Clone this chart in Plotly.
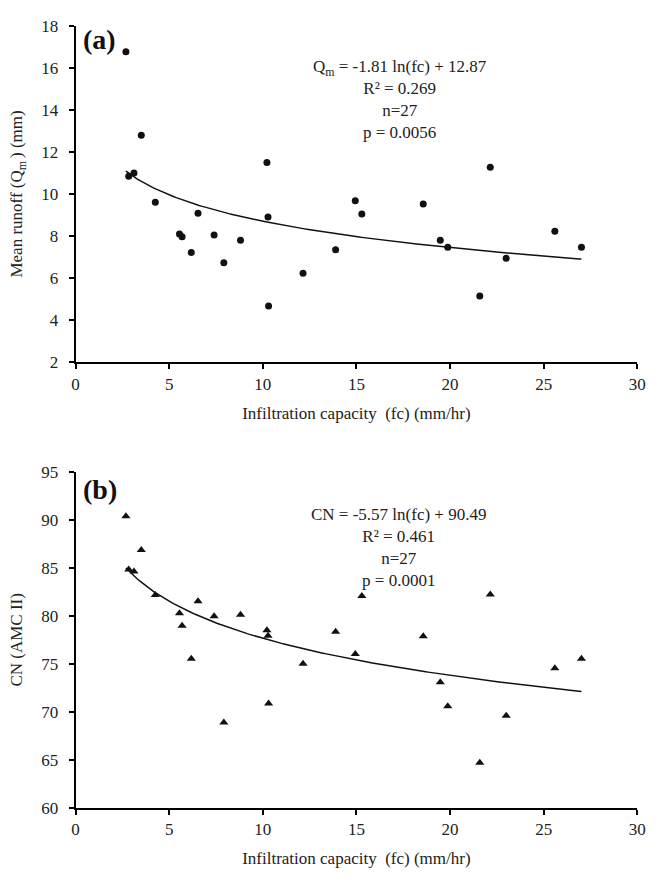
import numpy as np
import plotly.graph_objects as go

# ---- data ----
fc = [2.69, 3.51, 10.22, 2.84, 3.12, 4.26, 14.94, 6.54, 10.28, 5.55, 5.69, 7.40, 8.81, 6.18,
      7.92, 12.15, 10.31, 13.89, 15.29, 22.15, 18.57, 19.48, 19.88, 25.60, 27.02, 23.00, 21.59]
qm = [16.76, 12.79, 11.49, 10.84, 10.99, 9.60, 9.67, 9.08, 8.90, 8.09, 7.97, 8.05, 7.80, 7.22,
      6.73, 6.23, 4.67, 7.35, 9.04, 11.27, 9.52, 7.80, 7.47, 8.23, 7.47, 6.94, 5.15]
cn = [90.36, 86.86, 78.49, 84.82, 84.61, 82.16, 76.04, 81.51, 77.94, 80.26, 78.96, 79.95, 80.12, 75.53,
      68.90, 75.02, 70.87, 78.35, 82.06, 82.22, 77.88, 73.08, 70.59, 74.54, 75.53, 69.61, 64.71]

# fitted log-trend coefficients (slope, intercept) shown in the chart
fit_qm = [-1.81, 12.87]
fit_cn = [-5.57, 90.49]

eq_a = ["Q<sub>m</sub> = -1.81 ln(fc) + 12.87", "R² = 0.269", "n=27", "p = 0.0056"]
eq_b = ["CN = -5.57 ln(fc) + 90.49", "R² = 0.461", "n=27", "p = 0.0001"]

x_ticks = [0, 5, 10, 15, 20, 25, 30]

FONT = "Liberation Serif, Times New Roman, serif"
W, H = 658, 882

xfit = np.linspace(min(fc), max(fc), 200)

fig = go.Figure()
fig.add_trace(go.Scatter(x=fc, y=qm, mode="markers",
                         marker=dict(symbol="circle", size=7, color="#111111"),
                         xaxis="x", yaxis="y", showlegend=False))
fig.add_trace(go.Scatter(x=xfit, y=fit_qm[0] * np.log(xfit) + fit_qm[1], mode="lines",
                         line=dict(color="#111111", width=1.5),
                         xaxis="x", yaxis="y", showlegend=False))
fig.add_trace(go.Scatter(x=fc, y=cn, mode="markers",
                         marker=dict(symbol="triangle-up", size=8, color="#111111"),
                         xaxis="x2", yaxis="y2", showlegend=False))
fig.add_trace(go.Scatter(x=xfit, y=fit_cn[0] * np.log(xfit) + fit_cn[1], mode="lines",
                         line=dict(color="#111111", width=1.5),
                         xaxis="x2", yaxis="y2", showlegend=False))

axis_common = dict(showline=True, linecolor="black", linewidth=2, ticks="outside",
                   ticklen=5, tickwidth=1.5, tickcolor="black", showgrid=False,
                   zeroline=False, mirror=False,
                   tickfont=dict(family=FONT, size=17, color="#222222"))

xdom = [73 / W, 646 / W]
xtitle = "Infiltration capacity  (fc) (mm/hr)"
tfont = dict(family=FONT, size=17, color="#222222")

fig.update_layout(
    width=W, height=H, margin=dict(l=0, r=0, t=0, b=0),
    paper_bgcolor="white", plot_bgcolor="white",
    font=dict(family=FONT, color="#222222"),
    xaxis=dict(domain=xdom, anchor="y", range=[0, 30], tickvals=x_ticks,
               title=dict(text=xtitle, font=tfont, standoff=14), **axis_common),
    yaxis=dict(domain=[1 - 361 / H, 1 - 17 / H], anchor="x", range=[2, 18], dtick=2,
               ticklabelstandoff=7,
               title=dict(text="Mean runoff (Q<sub>m </sub>) (mm)", font=tfont, standoff=14),
               **axis_common),
    xaxis2=dict(domain=xdom, anchor="y2", range=[0, 30], tickvals=x_ticks,
                title=dict(text=xtitle, font=tfont, standoff=14), **axis_common),
    yaxis2=dict(domain=[1 - 816.5 / H, 1 - 473 / H], anchor="x2", range=[60, 95], dtick=5,
                ticklabelstandoff=7,
                title=dict(text="CN (AMC II)", font=tfont, standoff=14),
                **axis_common),
)

fig.add_annotation(text="<b>(a)</b>", xref="paper", yref="paper", x=79 / W, y=1 - 31 / H,
                   xanchor="left", yanchor="middle", showarrow=False,
                   font=dict(family=FONT, size=28, color="#111111"))
fig.add_annotation(text="<b>(b)</b>", xref="paper", yref="paper", x=79 / W, y=1 - 491 / H,
                   xanchor="left", yanchor="middle", showarrow=False,
                   font=dict(family=FONT, size=28, color="#111111"))
fig.add_annotation(text="<br>".join(eq_a), xref="paper", yref="paper", x=404 / W, y=1 - 92 / H,
                   xanchor="center", yanchor="middle", align="center", showarrow=False,
                   font=dict(family=FONT, size=17, color="#222222"))
fig.add_annotation(text="<br>".join(eq_b), xref="paper", yref="paper", x=402 / W, y=1 - 550 / H,
                   xanchor="center", yanchor="middle", align="center", showarrow=False,
                   font=dict(family=FONT, size=17, color="#222222"))

fig.write_html("out.html")
